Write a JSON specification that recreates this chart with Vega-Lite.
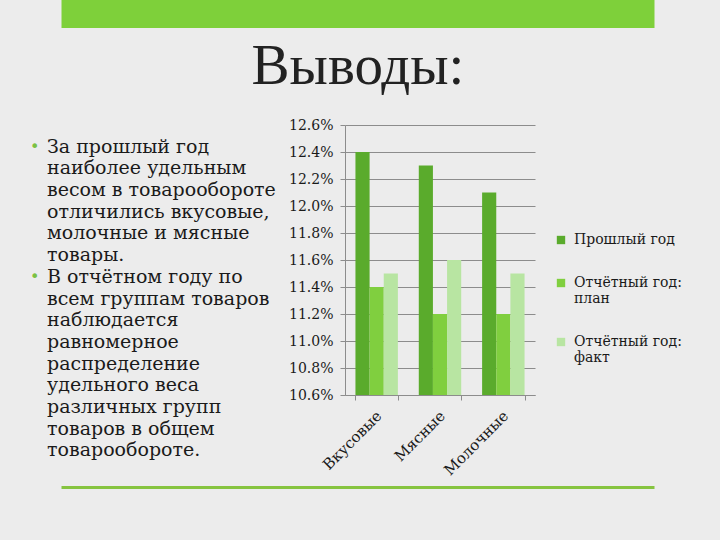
{
  "$schema": "https://vega.github.io/schema/vega-lite/v6.json",
  "background": "#ececec",
  "padding": {"left": 29, "top": 0, "right": 33, "bottom": 51},
  "config": {"view": {"stroke": null}, "font": "DejaVu Serif"},
  "spacing": 10,
  "center": true,
  "vconcat": [
    {
      "width": 593,
      "height": 28,
      "view": {"fill": "#7ed03a", "stroke": null},
      "data": {"values": [{"t": ""}]},
      "mark": "text",
      "encoding": {"text": {"field": "t"}}
    },
    {
      "spacing": 3,
      "center": true,
      "vconcat": [
        {
          "title": {
            "text": "Выводы:",
            "font": "Liberation Serif",
            "fontSize": 57,
            "fontWeight": "normal",
            "color": "#222222",
            "anchor": "middle",
            "offset": 22
          },
          "spacing": 4,
          "resolve": {"legend": {"color": "independent"}},
          "hconcat": [
            {
              "width": 255,
              "height": 347,
              "data": {
                "values": [
                  {"line": 1, "text": "За прошлый год", "bullet": true},
                  {"line": 2, "text": "наиболее удельным", "bullet": false},
                  {"line": 3, "text": "весом в товарообороте", "bullet": false},
                  {"line": 4, "text": "отличились вкусовые,", "bullet": false},
                  {"line": 5, "text": "молочные и мясные", "bullet": false},
                  {"line": 6, "text": "товары.", "bullet": false},
                  {"line": 7, "text": "В отчётном году по", "bullet": true},
                  {"line": 8, "text": "всем группам товаров", "bullet": false},
                  {"line": 9, "text": "наблюдается", "bullet": false},
                  {"line": 10, "text": "равномерное", "bullet": false},
                  {"line": 11, "text": "распределение", "bullet": false},
                  {"line": 12, "text": "удельного веса", "bullet": false},
                  {"line": 13, "text": "различных групп", "bullet": false},
                  {"line": 14, "text": "товаров в общем", "bullet": false},
                  {"line": 15, "text": "товарообороте.", "bullet": false}
                ]
              },
              "encoding": {
                "y": {"field": "line", "type": "ordinal", "scale": {"type": "point", "padding": 1.163}, "axis": null}
              },
              "layer": [
                {
                  "transform": [{"filter": "datum.bullet"}],
                  "mark": {"type": "text", "text": "•", "font": "DejaVu Sans", "fontSize": 16, "color": "#7ac143", "align": "left", "baseline": "middle"},
                  "encoding": {"x": {"value": 1}}
                },
                {
                  "mark": {"type": "text", "font": "DejaVu Serif", "fontSize": 19, "color": "#1a1a1a", "align": "left", "baseline": "middle"},
                  "encoding": {"x": {"value": 18}, "text": {"field": "text"}}
                }
              ]
            },
            {
              "width": 190,
              "height": 270,
              "data": {
                "values": [
                  {"group": "Вкусовые", "series": "Прошлый год", "value": 12.4},
                  {"group": "Вкусовые", "series": "Отчётный год: план", "value": 11.4},
                  {"group": "Вкусовые", "series": "Отчётный год: факт", "value": 11.5},
                  {"group": "Мясные", "series": "Прошлый год", "value": 12.3},
                  {"group": "Мясные", "series": "Отчётный год: план", "value": 11.2},
                  {"group": "Мясные", "series": "Отчётный год: факт", "value": 11.6},
                  {"group": "Молочные", "series": "Прошлый год", "value": 12.1},
                  {"group": "Молочные", "series": "Отчётный год: план", "value": 11.2},
                  {"group": "Молочные", "series": "Отчётный год: факт", "value": 11.5}
                ]
              },
              "mark": {"type": "bar"},
              "encoding": {
                "x": {
                  "field": "group",
                  "type": "nominal",
                  "sort": ["Вкусовые", "Мясные", "Молочные"],
                  "scale": {"paddingInner": 0.33, "paddingOuter": 0.165},
                  "axis": {
                    "title": null,
                    "labelAngle": -45,
                    "labelFont": "DejaVu Serif",
                    "labelFontSize": 15,
                    "labelColor": "#1a1a1a",
                    "labelPadding": 8,
                    "labelOffset": -3,
                    "tickBand": "extent",
                    "tickSize": 5,
                    "tickColor": "#8c8c8c",
                    "domainColor": "#8c8c8c"
                  }
                },
                "xOffset": {
                  "field": "series",
                  "sort": ["Прошлый год", "Отчётный год: план", "Отчётный год: факт"],
                  "scale": {"paddingInner": 0, "paddingOuter": 0}
                },
                "y": {
                  "field": "value",
                  "type": "quantitative",
                  "scale": {"domain": [10.6, 12.6], "zero": false, "nice": false},
                  "axis": {
                    "title": null,
                    "values": [10.6, 10.8, 11.0, 11.2, 11.4, 11.6, 11.8, 12.0, 12.2, 12.4, 12.6],
                    "labelExpr": "format(datum.value, '.1f') + '%'",
                    "labelFont": "DejaVu Serif",
                    "labelFontSize": 14,
                    "labelColor": "#1a1a1a",
                    "labelPadding": 7,
                    "tickSize": 5,
                    "tickColor": "#8c8c8c",
                    "domainColor": "#8c8c8c",
                    "gridColor": "#8c8c8c",
                    "gridOpacity": 1
                  }
                },
                "y2": {"datum": 10.6},
                "color": {
                  "field": "series",
                  "type": "nominal",
                  "scale": {
                    "domain": ["Прошлый год", "Отчётный год: план", "Отчётный год: факт"],
                    "range": ["#5aab2c", "#80cf3f", "#b8e5a2"]
                  },
                  "legend": {
                    "title": " ",
                    "titleFontSize": 1,
                    "titlePadding": 102,
                    "orient": "right",
                    "offset": 14,
                    "padding": 5,
                    "symbolType": "square",
                    "symbolSize": 70,
                    "symbolStrokeWidth": 0,
                    "labelFont": "DejaVu Serif",
                    "labelFontSize": 14,
                    "labelColor": "#1a1a1a",
                    "labelOffset": 6,
                    "labelLimit": 200,
                    "rowPadding": 29,
                    "labelExpr": "indexof(datum.label, ':') > 0 ? [slice(datum.label, 0, indexof(datum.label, ':') + 1), slice(datum.label, indexof(datum.label, ':') + 2)] : datum.label"
                  }
                }
              }
            }
          ]
        },
        {
          "width": 593,
          "height": 3,
          "view": {"fill": "#86c440", "stroke": null},
          "data": {"values": [{"t": ""}]},
          "mark": "text",
          "encoding": {"text": {"field": "t"}}
        }
      ]
    }
  ]
}
